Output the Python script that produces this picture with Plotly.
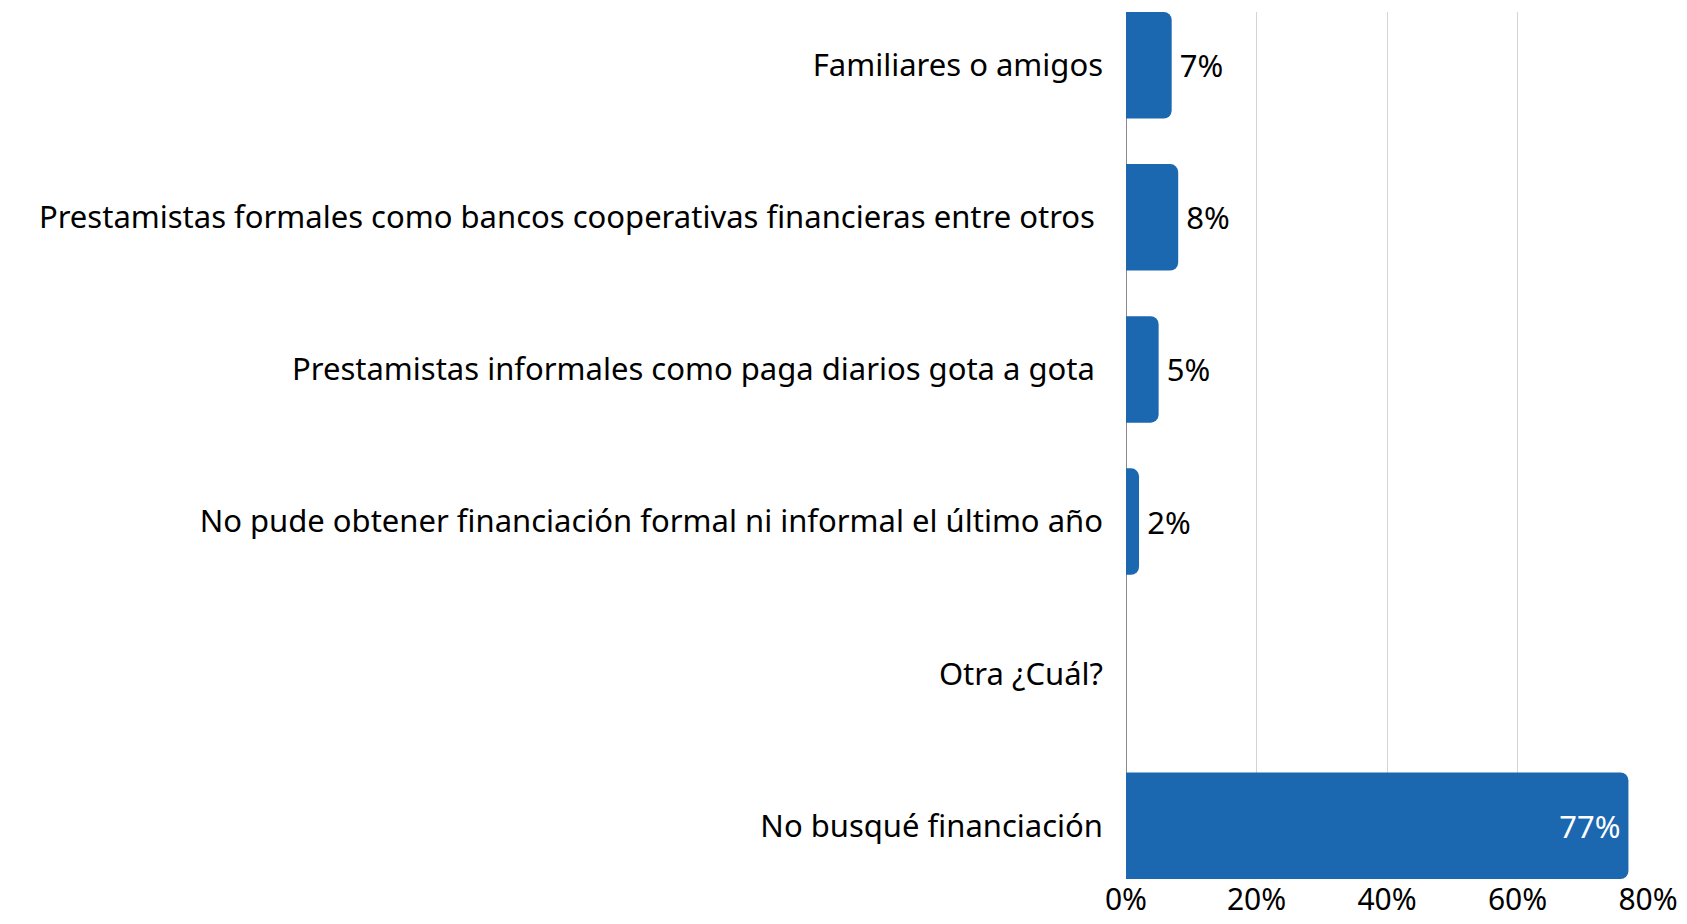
import plotly.graph_objects as go

categories = [
    "Familiares o amigos",
    "Prestamistas formales como bancos cooperativas financieras entre otros ",
    "Prestamistas informales como paga diarios gota a gota ",
    "No pude obtener financiación formal ni informal el último año",
    "Otra ¿Cuál?",
    "No busqué financiación",
]
values = [0.07, 0.08, 0.05, 0.02, 0.0, 0.77]
labels = ["\u20097%", "\u20098%", "\u20095%", "\u20092%", "", "77%"]
tick_vals = [0, 0.2, 0.4, 0.6, 0.8]
tick_text = ["0%", "20%", "40%", "60%", "80%"]

FONT = "Noto Sans"
BLUE = "#1b67b0"
FS = 31

fig = go.Figure(go.Bar(
    y=categories,
    x=values,
    orientation="h",
    marker=dict(color=BLUE, cornerradius=8, line=dict(width=0)),
    text=labels,
    textposition=["outside", "outside", "outside", "outside", "none", "inside"],
    insidetextanchor="end",
    textfont=dict(family=FONT, size=FS, color="#000000"),
    insidetextfont=dict(family=FONT, size=FS, color="#ffffff"),
    outsidetextfont=dict(family=FONT, size=FS, color="#000000"),
    cliponaxis=False,
    width=0.7,
))

fig.update_layout(
    width=1679,
    height=916,
    margin=dict(l=1118, r=39, t=4, b=45, autoexpand=False),
    paper_bgcolor="white",
    plot_bgcolor="white",
    showlegend=False,
    font=dict(family=FONT, size=FS, color="#000000"),
    xaxis=dict(
        range=[0, 0.8],
        tickvals=tick_vals,
        ticktext=tick_text,
        showgrid=True,
        gridcolor="#d4d4d4",
        gridwidth=1,
        zeroline=True,
        zerolinecolor="#8a8a8a",
        zerolinewidth=1,
        showline=False,
        ticks="",
        automargin=False,
        ticklabelstandoff=0,
        tickfont=dict(family=FONT, size=30, color="#000000"),
        fixedrange=True,
    ),
    yaxis=dict(
        categoryorder="array",
        categoryarray=categories,
        autorange=False,
        range=[5.35, -0.35],
        showgrid=False,
        zeroline=False,
        showline=False,
        ticks="",
        automargin=False,
        ticklabelstandoff=22,
        tickfont=dict(family=FONT, size=FS, color="#000000"),
        fixedrange=True,
    ),
)

fig.write_html("out.html")
